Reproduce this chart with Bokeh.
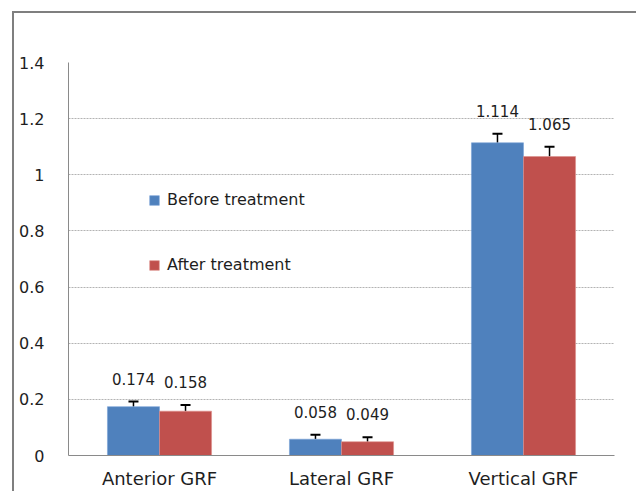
from bokeh.plotting import figure
from bokeh.models import ColumnDataSource, FixedTicker, Whisker, TeeHead, Legend, LegendItem
from bokeh.transform import dodge
from bokeh.core.properties import value
from bokeh.embed import file_html
from bokeh.resources import INLINE

categories = ["Anterior GRF", "Lateral GRF", "Vertical GRF"]
before = [0.174, 0.058, 1.114]
after = [0.158, 0.049, 1.065]
before_err = [0.018, 0.016, 0.032]
after_err = [0.022, 0.016, 0.035]
before_labels = ["0.174", "0.058", "1.114"]
after_labels = ["0.158", "0.049", "1.065"]
y_ticks = [0, 0.2, 0.4, 0.6, 0.8, 1.0, 1.2, 1.4]
y_tick_labels = ["0", "0.2", "0.4", "0.6", "0.8", "1", "1.2", "1.4"]

BLUE = "#4F81BD"
RED = "#C0504D"
FONT = "DejaVu Sans"
TXT = "#1e1e1e"

src = ColumnDataSource(dict(
    cat=categories,
    before=before, after=after,
    before_top=[v + e for v, e in zip(before, before_err)],
    after_top=[v + e for v, e in zip(after, after_err)],
    before_lab=before_labels, after_lab=after_labels,
))

p = figure(x_range=categories, y_range=(0, 1.4), width=624, height=480,
           output_backend="svg", toolbar_location=None,
           min_border_left=54, min_border_top=49, min_border_right=24, min_border_bottom=38)
p.styles = {"border-left": "2px solid #7f7f7f", "border-top": "2px solid #7f7f7f",
            "margin-left": "12px", "margin-top": "11px"}
p.outline_line_color = None
p.background_fill_color = "white"
p.border_fill_color = "white"

bw = 0.286
r1 = p.vbar(x=dodge("cat", -bw / 2, range=p.x_range), top="before", width=bw, source=src,
            fill_color=BLUE, line_color="#7aa2d6", line_width=0.6)
r2 = p.vbar(x=dodge("cat", bw / 2, range=p.x_range), top="after", width=bw, source=src,
            fill_color=RED, line_color="#dd8e8b", line_width=0.6)

for off, lo, hi in [(-bw / 2, "before", "before_top"), (bw / 2, "after", "after_top")]:
    w = Whisker(source=src, base=dodge("cat", off, range=p.x_range), lower=lo, upper=hi,
                line_color="black", line_width=1.5, lower_head=None,
                upper_head=TeeHead(size=10, line_color="black", line_width=2))
    p.add_layout(w)

for off, top, lab in [(-bw / 2, "before_top", "before_lab"), (bw / 2, "after_top", "after_lab")]:
    p.text(x=dodge("cat", off, range=p.x_range), y=top, text=lab, source=src,
           text_font=value(FONT), text_font_size="15px", text_color=TXT,
           text_align="center", text_baseline="middle", y_offset=-23)

legend = Legend(items=[LegendItem(label="Before treatment", renderers=[r1]),
                       LegendItem(label="After treatment", renderers=[r2])],
                location=(80, 181), spacing=46, padding=0, margin=0,
                glyph_width=12, glyph_height=12, label_height=14,
                label_text_font=FONT, label_text_font_size="16px", label_text_color=TXT,
                label_standoff=7, border_line_color=None, background_fill_alpha=0)
p.add_layout(legend, "center")

p.yaxis.ticker = FixedTicker(ticks=y_ticks)
p.yaxis.major_label_overrides = {t: l for t, l in zip(y_ticks, y_tick_labels)}
p.yaxis.major_tick_line_color = None
p.yaxis.minor_tick_line_color = None
p.yaxis.axis_line_color = "#8a8a8a"
p.yaxis.major_label_standoff = 18
p.yaxis.major_label_text_font = FONT
p.yaxis.major_label_text_font_size = "16px"
p.yaxis.major_label_text_color = TXT

p.xaxis.major_tick_line_color = None
p.xaxis.axis_line_color = "#8a8a8a"
p.xaxis.major_label_standoff = 6
p.xaxis.major_label_text_font = FONT
p.xaxis.major_label_text_font_size = "18px"
p.xaxis.major_label_text_color = TXT

p.xgrid.grid_line_color = None
p.ygrid.grid_line_color = "#a0a0a0"
p.ygrid.grid_line_dash = "2 1"
p.ygrid.grid_line_width = 0.8

open("out.html", "w").write(file_html(p, INLINE))
